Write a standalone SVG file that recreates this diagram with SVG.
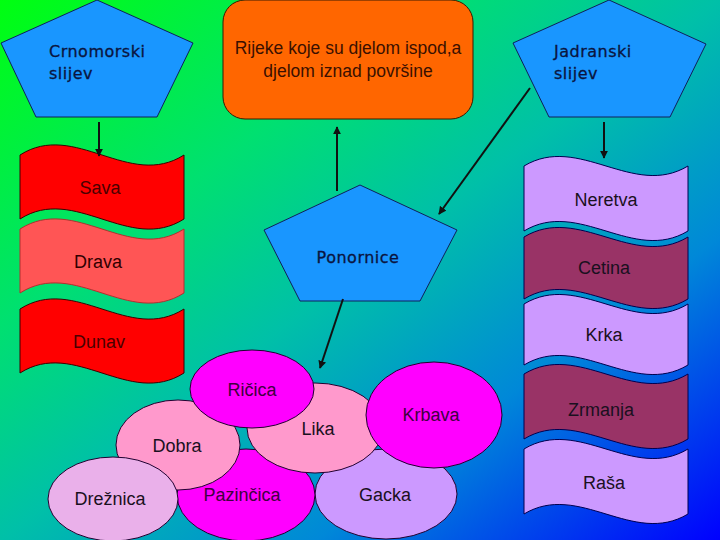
<svg xmlns="http://www.w3.org/2000/svg" width="720" height="540" viewBox="0 0 720 540">
<defs>
<linearGradient id="bg" x1="0" y1="0" x2="1" y2="1">
<stop offset="0" stop-color="#00ff10"/>
<stop offset="0.3" stop-color="#00e070"/>
<stop offset="0.5" stop-color="#00c0a8"/>
<stop offset="0.72" stop-color="#0088d8"/>
<stop offset="1" stop-color="#0000ff"/>
</linearGradient>
<marker id="ah" viewBox="0 0 10 10" refX="9" refY="5" markerWidth="8" markerHeight="8" markerUnits="userSpaceOnUse" orient="auto">
<path d="M0,0 L10,5 L0,10 Z" fill="#111"/>
</marker>
</defs>
<style>
.pent{fill:#1996ff;stroke:#10205a;stroke-width:1}
.ptxt{font-family:"DejaVu Sans",sans-serif;font-size:16px;fill:#0a1440;letter-spacing:0.5px;stroke:#0a1440;stroke-width:0.3}
.lbl{font-family:"Liberation Sans",Arial,sans-serif;font-size:18px;text-anchor:middle;fill:#1a1020}
.big{font-size:17.5px;fill:#3a1000}
.red{fill:#ff0000;stroke:#3a0000;stroke-width:1}
.lred{fill:#ff5555;stroke:#b03030;stroke-width:1}
.vio{fill:#cc99ff;stroke:#000050;stroke-width:1}
.mar{fill:#993366;stroke:#000050;stroke-width:1}
.ell{stroke:#200030;stroke-width:1}
.conn line{stroke:#111;stroke-width:2;marker-end:url(#ah)}
</style>
<rect width="720" height="540" fill="url(#bg)"/>

<g id="crnomorski">
<polygon class="pent" points="97,0 193,43 157,117 36,117 1,43"/>
<text class="ptxt" x="49" y="57">Crnomorski</text>
<text class="ptxt" x="49" y="79">slijev</text>
</g>

<g id="rijeke">
<rect x="223" y="0" width="250" height="119" rx="22" fill="#ff6600" stroke="#3a1a00" stroke-width="1"/>
<text class="lbl big" x="348" y="54">Rijeke koje su djelom ispod,a</text>
<text class="lbl big" x="348" y="77">djelom iznad površine</text>
</g>

<g id="jadranski">
<polygon class="pent" points="609,0 706,44 670,117 549,117 513,43"/>
<text class="ptxt" x="554" y="57">Jadranski</text>
<text class="ptxt" x="554" y="79">slijev</text>
</g>

<g id="ponornice">
<polygon class="pent" points="360,185 457,230 420,301 300,301 264,230"/>
<text class="ptxt" x="358" y="263" text-anchor="middle">Ponornice</text>
</g>

<g id="sava">
<path class="red" d="M20,155 C74.7,120 129.3,190 184,155 L184,219 C129.3,254 74.7,184 20,219 Z"/>
<text class="lbl" x="100" y="194" style="fill:#4a0000">Sava</text>
</g>
<g id="drava">
<path class="lred" d="M20,229 C74.7,194 129.3,264 184,229 L184,293 C129.3,328 74.7,258 20,293 Z"/>
<text class="lbl" x="98" y="268" style="fill:#300000">Drava</text>
</g>
<g id="dunav">
<path class="red" d="M20,309 C74.7,274 129.3,344 184,309 L184,373 C129.3,408 74.7,338 20,373 Z"/>
<text class="lbl" x="99" y="348" style="fill:#4a0000">Dunav</text>
</g>

<g id="neretva">
<path class="vio" d="M524,166 C578.7,133 633.3,199 688,166 L688,231 C633.3,264 578.7,198 524,231 Z"/>
<text class="lbl" x="606" y="206">Neretva</text>
</g>
<g id="cetina">
<path class="mar" d="M524,237 C578.7,204 633.3,270 688,237 L688,299 C633.3,332 578.7,266 524,299 Z"/>
<text class="lbl" x="604" y="274">Cetina</text>
</g>
<g id="krka">
<path class="vio" d="M524,304 C578.7,271 633.3,337 688,304 L688,365 C633.3,398 578.7,332 524,365 Z"/>
<text class="lbl" x="604" y="341">Krka</text>
</g>
<g id="zrmanja">
<path class="mar" d="M524,374 C578.7,341 633.3,407 688,374 L688,439 C633.3,472 578.7,406 524,439 Z"/>
<text class="lbl" x="601" y="416">Zrmanja</text>
</g>
<g id="rasa">
<path class="vio" d="M524,449 C578.7,416 633.3,482 688,449 L688,514 C633.3,547 578.7,481 524,514 Z"/>
<text class="lbl" x="604" y="489">Raša</text>
</g>

<g id="gacka">
<ellipse class="ell" cx="386" cy="494" rx="71" ry="45" fill="#cc99ff"/>
<text class="lbl" x="385" y="501">Gacka</text>
</g>
<g id="pazincica">
<ellipse class="ell" cx="246" cy="495" rx="69" ry="46" fill="#ff00ff"/>
<text class="lbl" x="242" y="501" style="fill:#400040">Pazinčica</text>
</g>
<g id="dobra">
<ellipse class="ell" cx="178" cy="445" rx="62" ry="45" fill="#ff99cc"/>
<text class="lbl" x="177" y="452">Dobra</text>
</g>
<g id="keznica">
<ellipse class="ell" cx="113" cy="499" rx="65" ry="42" fill="#eab0ea"/>
<text class="lbl" x="110" y="505">Drežnica</text>
</g>
<g id="lika">
<ellipse class="ell" cx="315" cy="428" rx="68" ry="45" fill="#ff99cc"/>
<text class="lbl" x="318" y="435">Lika</text>
</g>
<g id="ricica">
<ellipse class="ell" cx="252" cy="389" rx="62" ry="39" fill="#ff00ff"/>
<text class="lbl" x="252" y="396" style="fill:#400040">Ričica</text>
</g>
<g id="krbava">
<ellipse class="ell" cx="434" cy="415" rx="68" ry="53" fill="#ff00ff"/>
<text class="lbl" x="431" y="421" style="fill:#400040">Krbava</text>
</g>

<g id="connectors" class="conn">
<line x1="99" y1="122" x2="99" y2="156"/>
<line x1="604" y1="122" x2="604" y2="158"/>
<line x1="337" y1="191" x2="337" y2="127"/>
<line x1="530" y1="88" x2="439" y2="214"/>
<line x1="343" y1="299" x2="320" y2="368"/>
</g>
</svg>
